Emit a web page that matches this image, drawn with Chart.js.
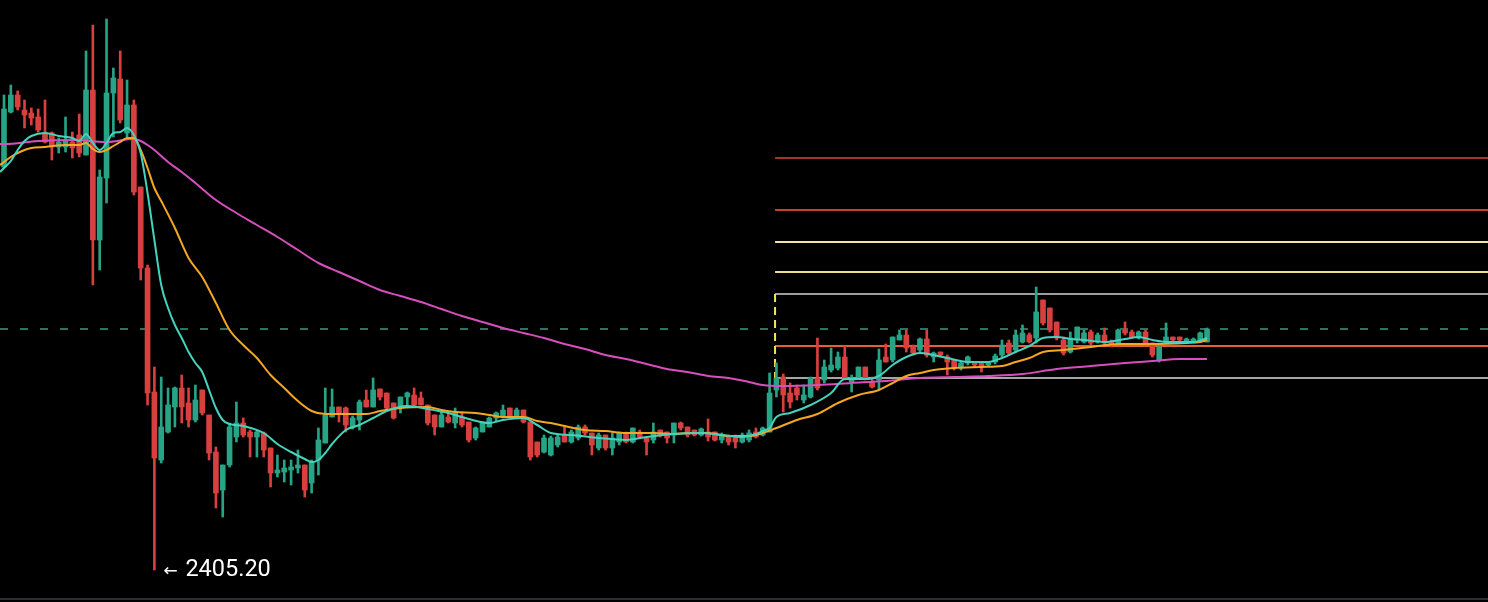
<!DOCTYPE html>
<html>
<head>
<meta charset="utf-8">
<script src="https://cdn.jsdelivr.net/npm/chart.js@4.4.0/dist/chart.umd.min.js"></script>
<style>
  html, body { margin: 0; padding: 0; background: #000; }
  #wrap { width: 1488px; height: 602px; }
</style>
</head>
<body>
<div id="wrap"><canvas id="myChart"></canvas></div>
<script>
// candles (one per bar, index 0..176)
const open = [2606.7,2634.2,2642.7,2635.2,2633.7,2631.7,2623.7,2623.7,2616.7,2616.7,
2619.2,2622.7,2612.7,2645.2,2570.2,2601.2,2643.7,2650.7,2623.7,2637.7,
2596.7,2556.2,2494.2,2460.2,2474.2,2486.7,2496.2,2488.7,2480.2,2495.2,
2482.7,2464.2,2445.2,2457.7,2471.7,2478.7,2474.2,2471.7,2473.7,2466.2,
2453.7,2454.2,2455.2,2456.2,2457.7,2448.7,2460.2,2468.7,2481.7,2486.7,
2486.2,2476.7,2480.2,2490.2,2486.7,2495.7,2493.7,2488.7,2486.2,2491.7,
2492.7,2491.2,2487.7,2482.7,2476.7,2481.7,2478.7,2481.7,2479.2,2471.2,
2474.2,2476.7,2481.2,2481.7,2486.2,2481.7,2485.2,2479.2,2469.2,2464.2,
2462.7,2467.7,2472.7,2469.2,2471.2,2476.7,2473.7,2466.2,2472.7,2466.2,
2469.2,2473.7,2469.2,2474.2,2471.2,2470.2,2475.2,2474.2,2472.7,2478.7,
2476.7,2475.2,2472.7,2474.2,2474.2,2470.2,2471.7,2471.7,2469.2,2470.2,
2474.2,2472.7,2474.2,2495.2,2501.7,2493.7,2496.2,2490.2,2491.7,2501.2,
2500.2,2505.2,2506.2,2511.7,2499.2,2501.7,2506.7,2499.2,2500.2,2511.7,
2510.2,2520.2,2522.7,2516.7,2515.2,2520.7,2511.7,2514.2,2511.7,2510.2,
2506.2,2508.7,2509.2,2508.7,2507.7,2509.2,2512.7,2518.7,2515.2,2519.2,
2522.7,2521.2,2540.2,2536.2,2529.2,2520.2,2514.2,2520.2,2519.2,2524.2,
2519.2,2522.7,2519.2,2518.7,2525.2,2524.2,2521.2,2524.2,2518.7,2510.2,
2519.2,2521.7,2521.7,2519.7,2519.7,2519.7,2519.2];

const high = [2642.7,2647.7,2644.7,2640.2,2636.2,2635.7,2640.2,2624.2,2621.2,2631.7,
2624.2,2633.2,2664.7,2677.7,2605.2,2680.7,2656.2,2664.7,2650.2,2640.2,
2596.7,2557.7,2506.7,2501.7,2496.2,2496.7,2502.7,2496.2,2497.7,2495.2,
2482.7,2466.7,2457.7,2478.7,2489.2,2481.2,2475.2,2475.2,2474.2,2466.2,
2462.7,2460.2,2460.2,2465.2,2457.7,2460.2,2476.2,2496.2,2495.7,2486.7,
2486.7,2482.2,2490.2,2495.2,2501.2,2495.7,2493.7,2488.7,2491.7,2494.2,
2496.2,2494.2,2487.7,2482.7,2484.2,2483.7,2486.2,2484.2,2479.2,2476.7,
2479.2,2481.7,2484.2,2487.7,2486.2,2486.2,2485.2,2479.2,2469.2,2472.7,
2472.2,2472.7,2476.7,2475.2,2477.7,2477.7,2473.7,2473.7,2472.7,2473.7,
2474.2,2474.2,2476.2,2475.2,2471.7,2478.7,2475.2,2474.2,2478.7,2479.2,
2476.7,2475.2,2476.2,2480.7,2474.2,2473.7,2472.7,2472.7,2473.7,2475.2,
2476.2,2476.7,2503.7,2508.7,2503.2,2498.7,2497.7,2497.7,2501.7,2521.2,
2510.2,2516.2,2514.2,2517.2,2502.7,2506.7,2506.7,2501.7,2515.7,2518.2,
2521.7,2525.2,2525.2,2517.7,2521.2,2525.2,2514.2,2514.2,2512.7,2510.2,
2509.2,2512.2,2509.2,2508.7,2509.2,2513.2,2520.2,2520.2,2525.2,2527.7,
2523.7,2546.7,2540.2,2536.2,2529.2,2521.7,2524.2,2526.7,2525.2,2525.2,
2523.7,2526.2,2520.2,2525.7,2529.2,2525.2,2524.7,2525.2,2518.7,2517.7,
2528.7,2521.7,2521.7,2521.2,2521.2,2524.2,2526.2];

const low = [2606.2,2633.7,2635.2,2626.2,2627.7,2624.2,2618.7,2610.2,2613.7,2614.2,
2611.2,2611.7,2612.7,2547.7,2555.2,2588.7,2621.7,2628.7,2621.7,2592.7,
2550.2,2487.7,2405.2,2458.7,2473.7,2476.7,2478.7,2476.7,2479.2,2482.7,
2460.2,2436.2,2431.7,2456.7,2469.2,2471.7,2461.7,2461.7,2461.7,2446.7,
2451.7,2449.2,2447.7,2453.7,2441.7,2443.7,2452.7,2468.7,2481.7,2479.2,
2474.2,2475.7,2475.2,2486.7,2486.7,2490.2,2485.2,2480.7,2483.7,2486.7,
2486.7,2487.7,2477.7,2472.7,2476.7,2478.7,2476.2,2476.7,2469.2,2470.2,
2474.2,2476.7,2479.2,2481.2,2481.2,2481.2,2478.7,2460.2,2461.7,2463.7,
2462.2,2466.7,2469.2,2468.7,2470.2,2472.7,2462.7,2465.2,2465.2,2462.7,
2467.7,2468.7,2468.7,2471.2,2462.7,2468.7,2471.7,2468.7,2468.7,2475.2,
2471.7,2472.2,2472.2,2469.7,2469.7,2468.7,2467.7,2466.2,2468.7,2469.2,
2471.2,2472.2,2474.2,2491.7,2484.2,2486.2,2490.2,2488.7,2491.2,2495.2,
2498.7,2504.2,2505.2,2500.2,2494.2,2501.2,2500.2,2496.2,2495.2,2509.2,
2509.2,2520.2,2514.2,2512.7,2514.2,2511.7,2509.2,2511.7,2502.7,2505.2,
2505.2,2507.7,2506.7,2504.2,2507.2,2508.2,2511.7,2512.7,2514.2,2518.7,
2518.7,2518.7,2527.7,2524.2,2520.2,2512.7,2513.7,2518.7,2518.7,2517.7,
2518.7,2517.7,2516.7,2517.7,2522.7,2521.2,2520.7,2517.7,2511.7,2509.2,
2518.7,2519.2,2519.7,2519.2,2519.2,2519.2,2519.2];

const close = [2635.7,2642.7,2636.7,2632.7,2631.2,2625.2,2619.2,2616.7,2619.2,2620.2,
2616.2,2613.7,2645.2,2570.2,2601.7,2643.7,2651.2,2630.2,2637.7,2594.2,
2556.2,2493.7,2461.2,2476.7,2487.7,2496.2,2486.7,2480.2,2490.2,2483.7,
2463.7,2443.7,2457.7,2476.7,2478.7,2472.7,2471.7,2474.2,2465.2,2453.7,
2455.2,2456.2,2456.7,2457.7,2445.2,2459.2,2470.2,2482.7,2486.7,2483.7,
2477.7,2481.2,2489.2,2486.7,2495.2,2491.7,2486.2,2481.2,2491.7,2493.7,
2487.7,2487.7,2478.7,2476.7,2482.7,2479.2,2483.7,2477.7,2470.2,2476.2,
2478.7,2481.2,2483.7,2485.2,2481.7,2485.2,2479.2,2461.7,2462.7,2471.2,
2471.2,2471.7,2469.2,2474.2,2476.7,2473.7,2467.7,2472.7,2466.2,2471.2,
2473.7,2469.2,2476.2,2471.7,2469.2,2474.2,2472.7,2471.2,2478.7,2476.2,
2472.7,2472.7,2475.7,2471.7,2470.2,2472.7,2469.2,2469.2,2472.7,2473.7,
2471.7,2476.2,2493.7,2501.2,2492.7,2489.2,2492.7,2492.7,2501.2,2496.2,
2506.7,2507.7,2511.7,2501.2,2501.2,2506.7,2501.2,2496.7,2510.2,2509.2,
2521.7,2522.7,2516.2,2513.7,2520.7,2512.7,2513.7,2512.7,2509.2,2506.2,
2508.7,2511.7,2507.7,2506.7,2508.7,2512.2,2517.7,2513.7,2522.7,2523.7,
2519.2,2534.2,2528.7,2525.2,2521.2,2513.7,2521.2,2526.7,2523.7,2518.7,
2522.7,2518.7,2517.7,2525.2,2523.7,2521.7,2524.2,2518.7,2512.7,2516.7,
2521.7,2520.2,2520.2,2520.7,2520.7,2523.7,2525.7];

// moving averages at bar indices
const fastIdx = [-0.6,0,1,2,3,4,6,8,10,11,12,13,14,15,16,17,18,19,20,21,22,23,24,25,26,27,28,29,30,31,32,33,35,38,40,42,44,45,46,47,48,50,52,54,56,59,62,65,68,71,73,76,78,80,83,87,91,94,98,102,105,108,110,111,112,113,115,118,121,123,126,128,130,132,134,136,138,141,144,146,148,150,152,154,156,158,161,164,166,168,170,174,176];
const fastVal = [2604.2,2606.2,2609.7,2615.2,2619.7,2622.2,2623.7,2622.2,2621.2,2619.7,2623.2,2618.7,2615.2,2618.7,2623.7,2624.2,2626.2,2622.7,2613.7,2593.7,2570.2,2547.7,2536.2,2527.7,2521.2,2514.2,2508.7,2504.2,2495.2,2486.2,2480.2,2478.2,2477.2,2473.7,2468.2,2464.2,2460.7,2459.2,2460.2,2463.7,2468.2,2475.2,2477.7,2481.2,2484.7,2487.2,2485.7,2483.7,2480.7,2478.7,2480.2,2481.2,2477.7,2473.7,2472.7,2471.2,2470.2,2471.7,2473.2,2473.7,2472.7,2471.7,2473.2,2474.7,2476.2,2481.7,2483.7,2487.7,2493.7,2500.7,2500.7,2502.2,2507.7,2511.7,2513.7,2512.7,2511.2,2509.2,2509.2,2511.2,2514.2,2517.2,2521.2,2521.7,2520.7,2520.2,2519.2,2520.7,2521.7,2520.2,2519.2,2519.2,2521.2];

const midIdx = [-0.6,0,1,2,4,6,9,11,12,13,14,15,16,17,18,19,20,21,22,23,25,27,29,31,33,35,37,39,41,43,45,47,50,53,55,58,62,64,66,69,71,73,76,78,80,82,85,88,91,95,98,100,103,106,109,111,113,116,119,122,125,128,130,132,134,136,139,143,146,148,150,152,155,159,163,168,173,175,176];
const midVal = [2607.7,2609.2,2611.7,2613.7,2616.2,2616.7,2617.7,2617.7,2618.7,2615.7,2614.2,2615.2,2617.2,2619.2,2621.2,2621.2,2615.2,2606.2,2596.2,2589.7,2576.2,2561.2,2551.7,2538.7,2525.2,2517.7,2511.2,2502.7,2496.2,2489.7,2484.7,2483.2,2483.2,2483.2,2484.7,2486.2,2486.7,2485.2,2484.2,2483.7,2482.7,2481.7,2481.7,2479.7,2478.7,2477.2,2475.2,2474.7,2473.7,2473.7,2473.2,2473.7,2473.7,2472.2,2472.2,2473.7,2476.2,2480.2,2483.2,2488.7,2492.7,2495.2,2498.7,2502.2,2503.7,2505.2,2506.2,2506.7,2507.2,2509.2,2511.2,2514.2,2515.2,2516.7,2518.2,2518.2,2518.7,2519.2,2520.2];

const slowIdx = [-0.6,0,5,10,15,19,20,21,22,24,26,28,31,34,37,40,43,46,49,52,55,58,61,64,67,70,73,76,79,82,85,88,91,94,97,100,103,106,109,111,114,119,124,129,134,139,144,149,154,159,164,168,172,176];
const slowVal = [2618.2,2618.2,2619.7,2620.2,2619.2,2620.7,2619.7,2617.7,2615.2,2609.2,2604.2,2598.7,2590.2,2583.7,2577.7,2571.7,2565.2,2558.7,2554.2,2549.7,2545.2,2542.2,2539.2,2535.7,2532.2,2529.2,2526.2,2523.7,2521.2,2518.2,2515.7,2512.7,2510.7,2508.2,2505.7,2504.2,2502.2,2501.2,2499.2,2497.7,2497.2,2497.7,2498.7,2499.7,2501.2,2501.7,2502.2,2503.2,2505.7,2507.2,2508.7,2509.7,2510.7,2510.7];

// horizontal price levels drawn from the range start to the right edge
const levelPrices = [2611.2, 2585.2, 2569.2, 2554.2, 2543.2, 2517.2, 2501.2];
const levelColors = ['#a8322d', '#c4402f', '#f3e3a0', '#f0dc8a', '#9e9e9e', '#e0623a', '#a6a6a6'];
const levelStart = 112.8;
const lastPrice = close[close.length - 1];

const upColor = '#27a386';
const downColor = '#d8403f';
const xMin = -0.585, xMax = 217.1;

const idx = close.map((c, i) => i);
const candleColors = idx.map(i => close[i] >= open[i] ? upColor : downColor);
const pts = (xs, ys) => xs.map((x, i) => ({x: x, y: ys[i]}));

const datasets = [];

levelPrices.forEach((p, k) => {
    datasets.push({
        type: 'line',
        data: [{x: levelStart, y: p}, {x: xMax, y: p}],
        borderColor: levelColors[k],
        borderWidth: 2,
        pointRadius: 0,
        order: 10
    });
});

// range marker on the left of the levels
datasets.push({
    type: 'line',
    data: [{x: levelStart, y: levelPrices[4]}, {x: levelStart, y: levelPrices[6]}],
    borderColor: '#f2e35c',
    borderWidth: 2,
    borderDash: [8, 5],
    pointRadius: 0,
    order: 9
});

// last price line
datasets.push({
    type: 'line',
    data: [{x: xMin, y: lastPrice}, {x: xMax, y: lastPrice}],
    borderColor: '#3a9a82',
    borderWidth: 1.5,
    borderDash: [8, 12],
    pointRadius: 0,
    order: 9
});

// wicks
datasets.push({
    type: 'bar',
    data: idx.map(i => ({x: i, y: [low[i], high[i]]})),
    backgroundColor: candleColors,
    barThickness: 2,
    grouped: false,
    order: 8
});

// bodies
datasets.push({
    type: 'bar',
    data: idx.map(i => ({x: i, y: [open[i], close[i]]})),
    backgroundColor: candleColors,
    barThickness: 5,
    minBarLength: 1,
    grouped: false,
    order: 7
});

const maStyle = (color) => ({
    type: 'line',
    borderColor: color,
    borderWidth: 2,
    pointRadius: 0,
    fill: false,
    cubicInterpolationMode: 'monotone'
});

datasets.push(Object.assign(maStyle('#d64fbd'), {data: pts(slowIdx, slowVal), order: 3}));
datasets.push(Object.assign(maStyle('#f5a623'), {data: pts(midIdx, midVal), order: 2}));
datasets.push(Object.assign(maStyle('#45d3bd'), {data: pts(fastIdx, fastVal), order: 1}));

const extras = {
    id: 'extras',
    afterDatasetsDraw(chart) {
        const {ctx, chartArea, scales} = chart;
        ctx.save();
        // bottom frame line
        ctx.strokeStyle = '#2a2e39';
        ctx.lineWidth = 2;
        ctx.beginPath();
        ctx.moveTo(0, chartArea.bottom + 1);
        ctx.lineTo(chart.width, chartArea.bottom + 1);
        ctx.stroke();
        // lowest low marker
        const lo = Math.min(...low);
        const iLow = low.indexOf(lo);
        const x = scales.x.getPixelForValue(iLow) + 9;
        const y = scales.y.getPixelForValue(lo);
        ctx.fillStyle = '#ffffff';
        ctx.textBaseline = 'middle';
        ctx.font = '17px "DejaVu Sans"';
        ctx.fillText('\u2190', x, y + 2);
        ctx.font = '23.5px Roboto';
        ctx.fillText(lo.toFixed(2), x + 22, y);
        ctx.restore();
    }
};

const myChart = new Chart(document.getElementById('myChart'), {
    type: 'bar',
    data: { datasets: datasets },
    options: {
        responsive: true,
        maintainAspectRatio: false,
        animation: false,
        events: [],
        layout: { padding: { left: 0, right: 0, top: 0, bottom: 4 } },
        scales: {
            x: { type: 'linear', min: xMin, max: xMax, offset: false, display: false },
            y: { type: 'linear', min: 2391.2, max: 2690.2, display: false }
        },
        plugins: {
            legend: { display: false },
            tooltip: { enabled: false }
        }
    },
    plugins: [extras]
});
</script>
</body>
</html>
